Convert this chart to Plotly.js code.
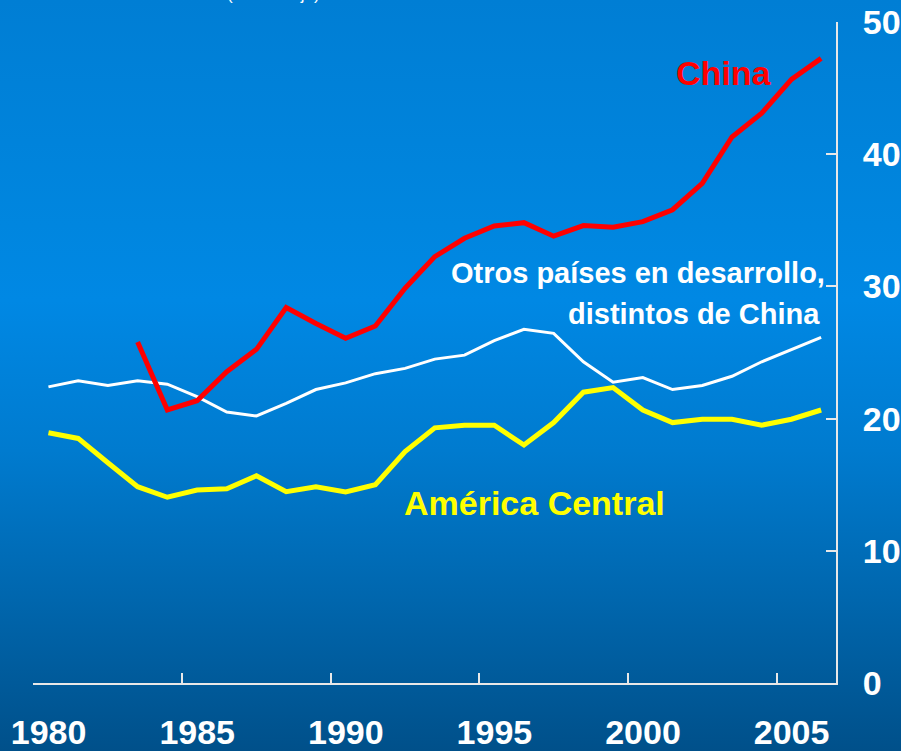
<!DOCTYPE html>
<html>
<head>
<meta charset="utf-8">
<script src="https://cdn.plot.ly/plotly-3.0.1.min.js"></script>
<style>
  html, body { margin: 0; padding: 0; }
  #chart {
    width: 901px; height: 751px;
    background: linear-gradient(to bottom, #007ED4 0%, #0086DF 30%, #0088E4 40%, #007BCF 60%, #0066AD 80%, #00508A 100%);
  }
</style>
</head>
<body>
<div id="chart"></div>
<script>
const years = [1980,1981,1982,1983,1984,1985,1986,1987,1988,1989,1990,1991,1992,1993,1994,1995,1996,1997,1998,1999,2000,2001,2002,2003,2004,2005,2006];
const china = [null,null,null,25.8,20.65,21.35,23.55,25.24,28.4,27.2,26.07,27.0,29.86,32.25,33.64,34.57,34.82,33.8,34.6,34.47,34.9,35.8,37.8,41.3,43.1,45.66,47.25];
const otros = [22.4,22.87,22.5,22.87,22.6,21.66,20.5,20.2,21.16,22.2,22.7,23.4,23.8,24.5,24.8,25.9,26.75,26.45,24.3,22.75,23.1,22.2,22.5,23.2,24.3,25.2,26.15];
const americaCentral = [18.93,18.5,16.66,14.85,14.05,14.6,14.7,15.68,14.47,14.85,14.45,15.0,17.5,19.3,19.5,19.5,18.0,19.7,22.0,22.35,20.65,19.7,19.95,19.95,19.5,19.95,20.65];
const xTickVals = [1979.5,1984.5,1989.5,1994.5,1999.5,2004.5];
const xTickText = ['1980','1985','1990','1995','2000','2005'];
const yTickVals = [0,10,20,30,40,50];

const FONT = 'Arial, "Liberation Sans", sans-serif';

const traces = [
  {x: years, y: otros, type: 'scatter', mode: 'lines', line: {color: '#FFFFFF', width: 3}, hoverinfo: 'skip'},
  {x: years, y: americaCentral, type: 'scatter', mode: 'lines', line: {color: '#FFFF00', width: 5}, hoverinfo: 'skip'},
  {x: years, y: china, type: 'scatter', mode: 'lines', line: {color: '#FF0000', width: 5}, connectgaps: false, hoverinfo: 'skip'}
];

const axisCommon = {
  showgrid: false, zeroline: false, showline: true,
  linecolor: '#E8E8E8', linewidth: 2,
  ticks: 'inside', ticklen: 10, tickwidth: 2, tickcolor: '#E8E8E8',
  tickfont: {family: FONT, size: 34, color: '#FFFFFF', weight: 'bold'},
  fixedrange: true
};

const layout = {
  width: 901, height: 751,
  margin: {l: 33, r: 65, t: 22, b: 68, pad: 0},
  paper_bgcolor: 'rgba(0,0,0,0)',
  plot_bgcolor: 'rgba(0,0,0,0)',
  showlegend: false,
  xaxis: Object.assign({}, axisCommon, {
    range: [1979.48, 2006.5],
    tickmode: 'array', tickvals: xTickVals, ticktext: xTickText,
    ticklabelshift: 15, ticklabelstandoff: 18
  }),
  yaxis: Object.assign({}, axisCommon, {
    side: 'right', range: [0, 50],
    tickmode: 'array', tickvals: yTickVals,
    ticklabelstandoff: 18
  }),
  annotations: [
    {text: '(Porcentaje)', xref: 'paper', yref: 'paper', x: 0.300, y: 1.0242, xanchor: 'center', yanchor: 'bottom', showarrow: false,
     font: {family: FONT, size: 17, color: '#FFFFFF'}},
    {text: 'China', x: 2002.73, y: 46.18, xanchor: 'center', yanchor: 'middle', showarrow: false,
     font: {family: FONT, size: 34, color: '#FF0000', weight: 'bold'}},
    {text: 'Otros países en desarrollo,', x: 2006.2, y: 31.01, xanchor: 'right', yanchor: 'middle', showarrow: false,
     font: {family: FONT, size: 29, color: '#FFFFFF', weight: 'bold'}},
    {text: 'distintos de China', x: 2006.03, y: 27.91, xanchor: 'right', yanchor: 'middle', showarrow: false,
     font: {family: FONT, size: 29, color: '#FFFFFF', weight: 'bold'}},
    {text: 'América Central', x: 1996.34, y: 13.62, xanchor: 'center', yanchor: 'middle', showarrow: false,
     font: {family: FONT, size: 34, color: '#FFFF00', weight: 'bold'}}
  ]
};

Plotly.newPlot('chart', traces, layout, {displayModeBar: false, staticPlot: true});
</script>
</body>
</html>
